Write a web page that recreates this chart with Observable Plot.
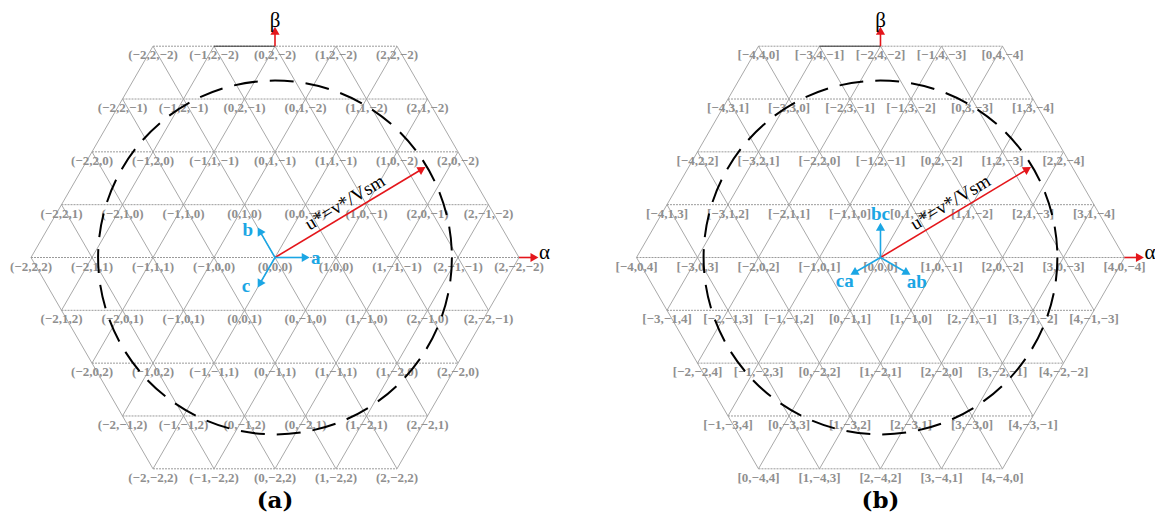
<!DOCTYPE html>
<html><head><meta charset="utf-8">
<script src="https://cdn.jsdelivr.net/npm/d3@7"></script>
<script src="https://cdn.jsdelivr.net/npm/@observablehq/plot@0.6"></script>
<style>body{margin:0;background:#fff}</style>
</head><body><div id="chart"></div>
<script>
// ---------------- data ----------------
const rowIndex = [4, 3, 2, 1, 0, -1, -2, -3, -4];
const labelsA = [
  ["(−2,2,−2)","(−1,2,−2)","(0,2,−2)","(1,2,−2)","(2,2,−2)"],
  ["(−2,2,−1)","(−1,2,−1)","(0,2,−1)","(0,1,−2)","(1,1,−2)","(2,1,−2)"],
  ["(−2,2,0)","(−1,2,0)","(−1,1,−1)","(0,1,−1)","(1,1,−1)","(1,0,−2)","(2,0,−2)"],
  ["(−2,2,1)","(−2,1,0)","(−1,1,0)","(0,1,0)","(0,0,−1)","(1,0,−1)","(2,0,−1)","(2,−1,−2)"],
  ["(−2,2,2)","(−2,1,1)","(−1,1,1)","(−1,0,0)","(0,0,0)","(1,0,0)","(1,−1,−1)","(2,−1,−1)","(2,−2,−2)"],
  ["(−2,1,2)","(−2,0,1)","(−1,0,1)","(0,0,1)","(0,−1,0)","(1,−1,0)","(2,−1,0)","(2,−2,−1)"],
  ["(−2,0,2)","(−1,0,2)","(−1,−1,1)","(0,−1,1)","(1,−1,1)","(1,−2,0)","(2,−2,0)"],
  ["(−2,−1,2)","(−1,−1,2)","(0,−1,2)","(0,−2,1)","(1,−2,1)","(2,−2,1)"],
  ["(−2,−2,2)","(−1,−2,2)","(0,−2,2)","(1,−2,2)","(2,−2,2)"]
];
const labelsB = [
  ["[−4,4,0]","[−3,4,−1]","[−2,4,−2]","[−1,4,−3]","[0,4,−4]"],
  ["[−4,3,1]","[−3,3,0]","[−2,3,−1]","[−1,3,−2]","[0,3,−3]","[1,3,−4]"],
  ["[−4,2,2]","[−3,2,1]","[−2,2,0]","[−1,2,−1]","[0,2,−2]","[1,2,−3]","[2,2,−4]"],
  ["[−4,1,3]","[−3,1,2]","[−2,1,1]","[−1,1,0]","[0,1,−1]","[1,1,−2]","[2,1,−3]","[3,1,−4]"],
  ["[−4,0,4]","[−3,0,3]","[−2,0,2]","[−1,0,1]","[0,0,0]","[1,0,−1]","[2,0,−2]","[3,0,−3]","[4,0,−4]"],
  ["[−3,−1,4]","[−2,−1,3]","[−1,−1,2]","[0,−1,1]","[1,−1,0]","[2,−1,−1]","[3,−1,−2]","[4,−1,−3]"],
  ["[−2,−2,4]","[−1,−2,3]","[0,−2,2]","[1,−2,1]","[2,−2,0]","[3,−2,−1]","[4,−2,−2]"],
  ["[−1,−3,4]","[0,−3,3]","[1,−3,2]","[2,−3,1]","[3,−3,0]","[4,−3,−1]"],
  ["[0,−4,4]","[1,−4,3]","[2,−4,2]","[3,−4,1]","[4,−4,0]"]
];
const panelCaptions = ["(a)", "(b)"];
const basisNamesA = ["a", "b", "c"];
const basisAnglesA = [0, 120, 240];
const basisNamesB = ["bc", "ca", "ab"];
const basisAnglesB = [90, 210, 330];
const refAngle = 31;       // degrees, u* vector
const refMagnitude = 2.88; // lattice units
const circleRadius = 2.9;  // lattice units
const vectorLabelParts = [
  {t: "u", italic: true}, {t: "*", sup: true}, {t: "=", base: true},
  {t: "v", italic: true}, {t: "*", sup: true}, {t: "/", base: true},
  {t: "V", italic: true, base: true}, {t: "sm", sub: true}
];

// ---------------- layout ----------------
const W = 1155, H = 518, U = 61;        // px per lattice unit
const originPx = 274.5, originPy = 257;
const panelOffsets = [0, 9.926];        // panel origins (units)
const N = 4;                            // hexagon side
const S3 = Math.sqrt(3) / 2;
const rad = d => d * Math.PI / 180;

const vertices = [];
[labelsA, labelsB].forEach((labels, p) => {
  labels.forEach((row, k) => {
    const r = rowIndex[k];
    row.forEach((lab, i) => {
      vertices.push({x: panelOffsets[p] - N + Math.abs(r) / 2 + i, y: r * S3, label: lab});
    });
  });
});

const horiz = [], diag = [];
for (const off of panelOffsets) {
  for (let r = -N; r <= N; r++) {
    const xh = N - Math.abs(r) / 2, y = r * S3;
    for (const rot of [0, 60, 120]) {
      const c = Math.cos(rad(rot)), s = Math.sin(rad(rot));
      const seg = {
        x1: off + (-xh) * c - y * s, y1: (-xh) * s + y * c,
        x2: off + xh * c - y * s, y2: xh * s + y * c
      };
      (rot === 0 ? horiz : diag).push(seg);
    }
  }
}

const headBack = 5.4 / U;
function arrow(x0, y0, ang, len, color) {
  const c = Math.cos(rad(ang)), s = Math.sin(rad(ang));
  return {x1: x0, y1: y0, x2: x0 + c * (len - headBack), y2: y0 + s * (len - headBack),
          hx: x0 + c * (len - headBack), hy: y0 + s * (len - headBack), rot: 90 - ang, color};
}
const RED = "#e4161b", BLUE = "#1ba6e4";
const arrows = [];
const blueLabels = [];
const basisLen = 0.57;
panelOffsets.forEach((off, p) => {
  arrows.push(arrow(off, 0, refAngle, refMagnitude, RED));
  arrows.push(arrow(off + N, 0, 0, 0.32, RED));
  arrows.push(arrow(off, N * S3, 90, 0.32, RED));
  const angs = p === 0 ? basisAnglesA : basisAnglesB;
  angs.forEach(a => arrows.push(arrow(off, 0, a, basisLen, BLUE)));
});
const blueLabelPolar = [
  [[0, 0.67], [134, 0.64], [224, 0.66]],
  [[90, 0.72], [213, 0.7], [326, 0.72]]
];
panelOffsets.forEach((off, p) => {
  const names = p === 0 ? basisNamesA : basisNamesB;
  names.forEach((n, i) => {
    const [a, d] = blueLabelPolar[p][i];
    blueLabels.push({x: off + d * Math.cos(rad(a)), y: d * Math.sin(rad(a)), label: n});
  });
});
const axisLabels = [];
panelOffsets.forEach(off => {
  axisLabels.push({x: off + N + 0.42, y: 0.09, label: "α", italic: true});
  axisLabels.push({x: off, y: N * S3 + 0.42, label: "β", italic: false});
});
const topSegs = panelOffsets.map(off => ({x1: off - 1, y1: N * S3, x2: off, y2: N * S3}));
const origins = panelOffsets.map((off, p) => ({x: off, y: 0, caption: panelCaptions[p]}));
const vecText = panelOffsets.map(off => ({
  x: off + 0.5 * refMagnitude * Math.cos(rad(refAngle)),
  y: 0.5 * refMagnitude * Math.sin(rad(refAngle))
}));

const plot = Plot.plot({
  width: W, height: H, margin: 0,
  x: {domain: [-originPx / U, (W - originPx) / U], axis: null},
  y: {domain: [-(H - originPy) / U, originPy / U], axis: null},
  style: {background: "#fff"},
  marks: [
    Plot.link(diag, {x1: "x1", y1: "y1", x2: "x2", y2: "y2", stroke: "#a9a9a9", strokeWidth: 1}),
    Plot.link(horiz, {x1: "x1", y1: "y1", x2: "x2", y2: "y2", stroke: "#9a9a9a", strokeWidth: 1, strokeDasharray: "2,1"}),
    Plot.link(topSegs, {x1: "x1", y1: "y1", x2: "x2", y2: "y2", stroke: "#333", strokeWidth: 1}),
    Plot.text(vertices, {x: "x", y: "y", text: "label", dy: 9, fill: "#8f8f8f", fontSize: 13,
      fontWeight: "bold", fontFamily: "'Liberation Serif', serif", lineAnchor: "middle"}),
    Plot.dot(origins, {x: "x", y: "y", r: circleRadius * U, stroke: "#000", strokeWidth: 2,
      fill: "none", strokeDasharray: "24,12"}),
    Plot.link(arrows, {x1: "x1", y1: "y1", x2: "x2", y2: "y2", stroke: d => d.color, strokeWidth: 1.6}),
    Plot.dot(arrows, {x: "hx", y: "hy", symbol: "triangle", r: 3.4, rotate: "rot", fill: d => d.color, stroke: "none"}),
    Plot.text(blueLabels, {x: "x", y: "y", text: "label", fill: BLUE, fontSize: 19, fontWeight: "bold",
      fontFamily: "'Liberation Serif', serif", lineAnchor: "middle"}),
    Plot.text(axisLabels, {x: "x", y: "y", text: "label", fill: "#000", fontSize: 21,
      fontFamily: "'Liberation Serif', serif", fontStyle: d => d.italic ? "italic" : "normal", lineAnchor: "middle"}),
    Plot.text(vecText, {x: "x", y: "y", text: () => "u*=v*/Vsm", rotate: -refAngle, dx: -5.5, dy: -10,
      fill: "#000", fontSize: 19, fontFamily: "'Liberation Serif', serif", lineAnchor: "middle", ariaLabel: "vector-label"}),
    Plot.text(origins, {x: "x", text: "caption", frameAnchor: "bottom", dy: -18, fill: "#000",
      fontSize: 23, fontWeight: "bold", fontFamily: "'DejaVu Serif', serif", lineAnchor: "middle"})
  ]
});
document.getElementById("chart").appendChild(plot);

plot.querySelectorAll('g[aria-label="vector-label"] text').forEach(t => {
  t.textContent = "";
  let shift = 0;
  for (const p of vectorLabelParts) {
    const ts = document.createElementNS("http://www.w3.org/2000/svg", "tspan");
    ts.textContent = p.t;
    let target = 0, size = null;
    if (p.sup) { target = -7; size = 13; }
    else if (p.sub) { target = 4; size = 12; }
    ts.setAttribute("dy", target - shift);
    shift = target;
    if (size) ts.setAttribute("font-size", size);
    if (p.italic) ts.setAttribute("font-style", "italic");
    t.appendChild(ts);
  }
});
</script>
</body></html>
